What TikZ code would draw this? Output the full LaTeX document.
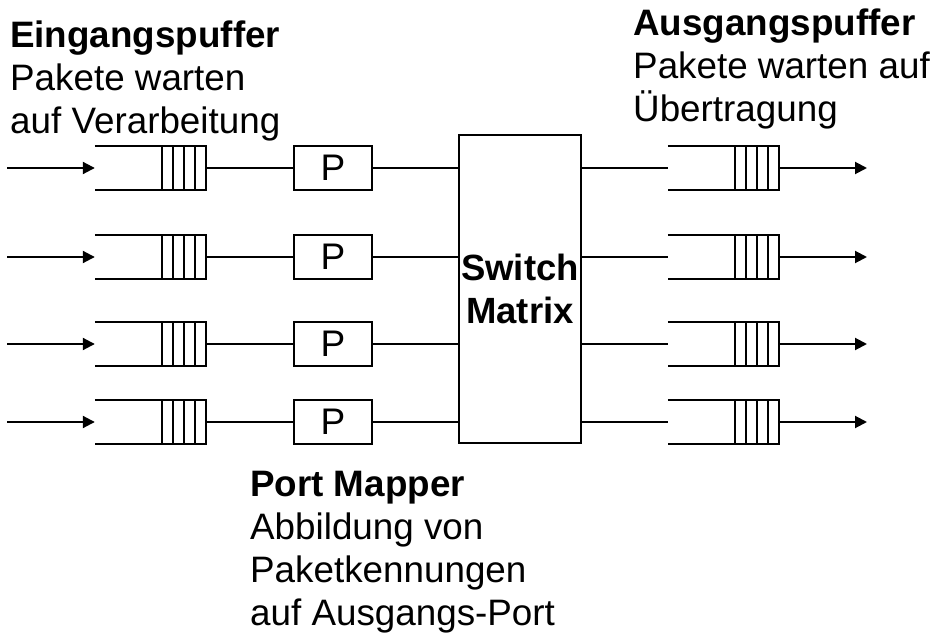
\documentclass[tikz,border=0pt]{standalone}
\usepackage{fontspec}
\setmainfont{Liberation Sans}
\usetikzlibrary{arrows.meta}
\tikzset{
  conn/.style={line width=2pt},
  arr/.style={line width=2pt, -{Triangle[length=12pt,width=12pt]}},
  pbox/.style={draw, line width=2pt, minimum width=78pt, minimum height=44pt, inner sep=0pt, font=\fontsize{37}{43}\selectfont},
  queuebox/.style={minimum width=111pt, minimum height=44pt, inner sep=0pt},
  swbox/.style={draw, line width=2pt, minimum width=122pt, minimum height=308pt, inner sep=0pt, align=center, font=\fontsize{36.5}{43}\selectfont\bfseries},
  txt/.style={align=left, inner sep=0pt, anchor=base west, font=\fontsize{36.8}{43}\selectfont},
}
\newcommand{\drawqueue}[1]{%
  \draw[line width=2pt] (#1.north west) -- (#1.north east) -- (#1.south east) -- (#1.south west);
  \foreach \d in {11,22,33,44} {\draw[line width=2pt] ([xshift=-\d pt]#1.north east) -- ([xshift=-\d pt]#1.south east);}
}
\begin{document}
\begin{tikzpicture}[x=1pt,y=-1pt]
\useasboundingbox (0,0) rectangle (938,636);
\node[swbox] (S) at (520,289) {Switch\\Matrix};
\foreach \i/\y in {1/168,2/257,3/344,4/422} {
  \coordinate (a\i) at (7,\y);
  \coordinate (b\i) at (867,\y);
  \node[queuebox] (iq\i) at (150.5,\y) {};
  \node[pbox] (p\i) at (333,\y) {P};
  \node[queuebox] (oq\i) at (723.5,\y) {};
  \drawqueue{iq\i}
  \drawqueue{oq\i}
  \draw[arr] (a\i) -- (iq\i.west);
  \draw[conn] (iq\i.east) -- (p\i.west);
  \draw[conn] (p\i.east) -- (S.west |- p\i.east);
  \draw[conn] (S.east |- p\i.east) -- (oq\i.west);
  \draw[arr] (oq\i.east) -- (b\i);
}
\node[txt] (tin) at (10,134) {\textbf{Eingangspuffer}\\Pakete warten\\auf Verarbeitung};
\node[txt] (tout) at (633,122) {\textbf{Ausgangspuffer}\\Pakete warten auf\\Übertragung};
\node[txt] (tpm) at (250,625) {\textbf{Port Mapper}\\Abbildung von\\Paketkennungen\\auf Ausgangs-Port};
\end{tikzpicture}
\end{document}
